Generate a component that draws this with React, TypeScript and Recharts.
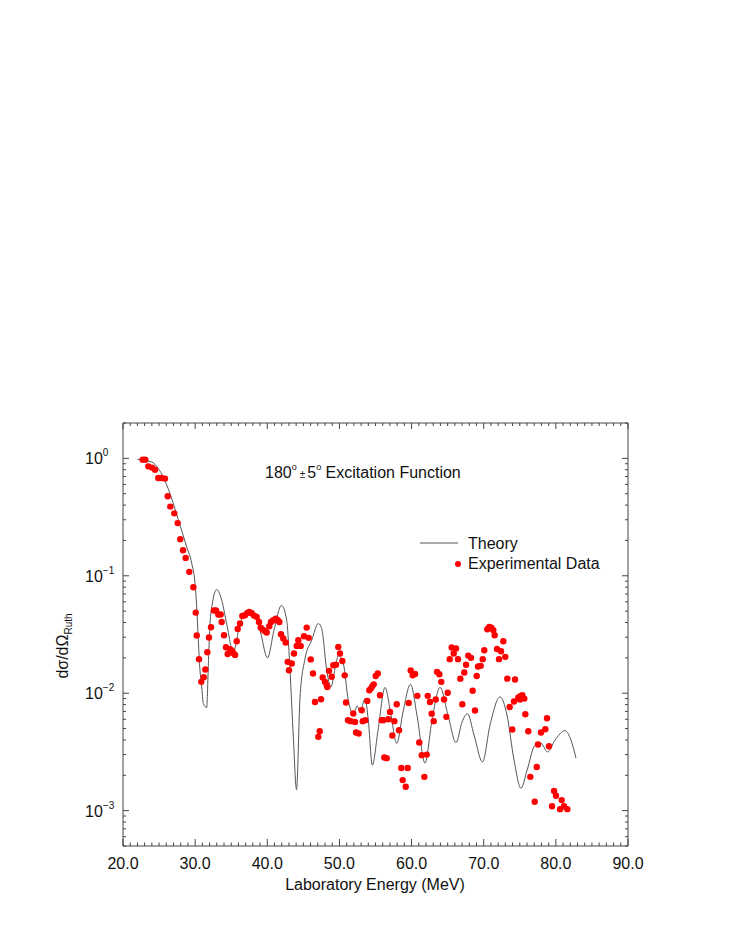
import React from 'react';
import { ComposedChart, Line, Scatter, XAxis, YAxis } from 'recharts';

// theory curve: [lab energy MeV, dσ/dΩ / Ruth]
const THEORY: [number, number][] = [
  [22.0, 0.98], [24.0, 0.93], [24.89, 0.82], [25.59, 0.69], [26.52, 0.5], [27.67, 0.3],
  [28.83, 0.176], [29.52, 0.128], [29.98, 0.0863], [30.22, 0.0542], [30.44, 0.0283],
  [30.67, 0.0157], [30.91, 0.0113], [31.13, 0.00817], [31.6, 0.00755], [31.85, 0.019],
  [32.06, 0.039], [32.34, 0.056], [32.99, 0.0763], [33.68, 0.062], [34.37, 0.039],
  [35.29, 0.0225], [36.22, 0.039], [37.05, 0.049], [38.02, 0.0492], [38.99, 0.0344],
  [40.03, 0.02], [40.93, 0.0344], [41.97, 0.056], [42.69, 0.0418], [43.15, 0.0157],
  [43.61, 0.00425], [44.05, 0.00151], [44.54, 0.0093], [45.23, 0.0197], [46.16, 0.0283],
  [47.07, 0.0392], [47.54, 0.0355], [48.24, 0.0157], [48.8, 0.0113], [49.62, 0.0191],
  [49.87, 0.021], [50.54, 0.0179], [51.23, 0.0087], [51.92, 0.0067], [52.48, 0.0078],
  [52.85, 0.0069], [53.55, 0.009], [54.0, 0.0059], [54.56, 0.00244], [55.35, 0.00484],
  [56.32, 0.0112], [57.15, 0.0065], [57.94, 0.00373], [58.81, 0.0069], [59.85, 0.0119],
  [60.75, 0.0065], [61.86, 0.00254], [62.83, 0.0059], [63.94, 0.0112], [65.05, 0.0065],
  [66.16, 0.0038], [66.99, 0.00566], [67.75, 0.0067], [68.66, 0.0044], [69.83, 0.0026],
  [70.87, 0.00534], [72.26, 0.0093], [73.23, 0.0065], [74.2, 0.0027], [75.17, 0.00155],
  [76.0, 0.0022], [77.11, 0.0036], [77.94, 0.00375], [78.84, 0.00316], [79.88, 0.00398],
  [81.27, 0.0048], [82.1, 0.00398], [82.79, 0.0028],
];

// experimental points: [lab energy MeV, dσ/dΩ / Ruth]
const EXPERIMENT: [number, number][] = [
  [22.73, 0.975], [23.09, 0.975], [23.51, 0.855], [24.02, 0.834], [24.44, 0.8], [24.89, 0.68],
  [25.36, 0.68], [25.82, 0.672], [26.2, 0.475], [26.56, 0.388], [27.11, 0.34], [27.58, 0.281],
  [27.94, 0.205], [28.32, 0.165], [28.69, 0.142], [29.19, 0.108], [29.75, 0.0798], [30.08, 0.0486],
  [30.22, 0.031], [30.54, 0.0195], [30.85, 0.0125], [31.19, 0.0137], [31.41, 0.0159], [31.69, 0.0223],
  [31.92, 0.0298], [32.2, 0.0365], [32.61, 0.0506], [32.89, 0.0506], [33.21, 0.0468], [33.54, 0.0468],
  [33.68, 0.0404], [34.0, 0.0312], [34.28, 0.0246], [34.51, 0.0216], [34.83, 0.0237], [35.07, 0.0231],
  [35.29, 0.022], [35.53, 0.0212], [35.76, 0.0277], [35.9, 0.0353], [36.22, 0.0392], [36.54, 0.0455],
  [36.91, 0.0461], [37.23, 0.0482], [37.51, 0.0492], [37.84, 0.048], [38.16, 0.0458], [38.53, 0.0446],
  [38.85, 0.0404], [39.09, 0.0362], [39.37, 0.0348], [39.68, 0.0337], [39.92, 0.0329], [40.28, 0.0372],
  [40.52, 0.0404], [40.83, 0.0418], [41.17, 0.0432], [41.44, 0.0418], [41.67, 0.0404], [41.9, 0.0318],
  [42.22, 0.0292], [42.55, 0.027], [42.83, 0.0185], [43.01, 0.0157], [43.39, 0.0179], [43.7, 0.0218],
  [44.08, 0.0253], [44.3, 0.0283], [44.63, 0.0253], [45.09, 0.0306], [45.46, 0.0362], [45.74, 0.0296],
  [46.02, 0.0194], [46.34, 0.0147], [46.61, 0.00843], [47.07, 0.00425], [47.27, 0.00475], [47.45, 0.00889],
  [47.68, 0.0136], [48.0, 0.0125], [48.24, 0.0117], [48.32, 0.0113], [48.56, 0.0155], [48.93, 0.0138],
  [49.15, 0.0173], [49.53, 0.0175], [49.84, 0.0248], [50.08, 0.0218], [50.4, 0.0188], [50.73, 0.0142],
  [50.91, 0.00834], [51.19, 0.0059], [51.56, 0.00578], [51.92, 0.00672], [52.16, 0.0057], [52.3, 0.00463],
  [52.67, 0.00454], [53.09, 0.00717], [53.23, 0.00578], [53.59, 0.0059], [53.86, 0.0086], [54.14, 0.0106],
  [54.38, 0.011], [54.56, 0.0115], [54.75, 0.0119], [55.03, 0.014], [55.31, 0.0147], [55.62, 0.0096],
  [55.86, 0.0059], [56.08, 0.0059], [56.22, 0.00284], [56.55, 0.0028], [56.78, 0.006], [57.01, 0.00693],
  [57.33, 0.00436], [57.61, 0.00578], [57.94, 0.00806], [58.26, 0.00484], [58.58, 0.00231], [58.77, 0.00182],
  [59.19, 0.0016], [59.46, 0.00231], [59.6, 0.00827], [59.88, 0.0156], [60.16, 0.0142], [60.48, 0.0146],
  [60.8, 0.0095], [61.07, 0.0038], [61.41, 0.00297], [61.77, 0.00194], [62.1, 0.003], [62.24, 0.0095],
  [62.56, 0.00843], [62.79, 0.0067], [63.07, 0.00578], [63.35, 0.00884], [63.53, 0.0152], [63.85, 0.0145],
  [64.12, 0.0125], [64.5, 0.00884], [64.82, 0.00629], [65.01, 0.0101], [65.29, 0.0195], [65.56, 0.0245],
  [65.84, 0.0218], [66.16, 0.024], [66.44, 0.0195], [66.76, 0.0133], [67.03, 0.00806], [67.31, 0.015],
  [67.55, 0.0175], [67.86, 0.0209], [68.24, 0.02], [68.47, 0.0105], [68.79, 0.00713], [69.03, 0.014],
  [69.21, 0.0169], [69.58, 0.0171], [69.86, 0.0195], [70.08, 0.0232], [70.5, 0.0351], [70.78, 0.0367],
  [71.05, 0.0362], [71.33, 0.0344], [71.52, 0.0312], [71.84, 0.0238], [72.12, 0.0195], [72.4, 0.0228],
  [72.72, 0.0277], [72.99, 0.0204], [73.27, 0.0133], [73.6, 0.00764], [73.96, 0.00491], [74.2, 0.0085],
  [74.34, 0.0131], [74.8, 0.00919], [75.03, 0.00884], [75.13, 0.0095], [75.35, 0.0096], [75.63, 0.009],
  [75.77, 0.00663], [76.18, 0.00475], [76.46, 0.00194], [77.07, 0.00119], [77.35, 0.00235], [77.53, 0.00366],
  [77.94, 0.00463], [78.54, 0.00494], [78.77, 0.00612], [79.05, 0.00354], [79.47, 0.00109], [79.75, 0.00147],
  [80.02, 0.00134], [80.58, 0.00103], [80.81, 0.00123], [81.13, 0.00109], [81.59, 0.00103],
];

const X_MAJOR = [20, 30, 40, 50, 60, 70, 80, 90];
const Y_DECADES = [-4, -3, -2, -1, 0];
const Y_DOMAIN: [number, number] = [0.0005, 2];

const theoryData = THEORY.map(([x, y]) => ({ x, y }));
const expData = EXPERIMENT.map(([x, y]) => ({ x, y }));

const xTicks: number[] = [];
for (let v = X_MAJOR[0]; v <= X_MAJOR[X_MAJOR.length - 1]; v++) xTicks.push(v);

const yTicks: number[] = [];
Y_DECADES.forEach((d) => {
  for (let k = 1; k <= 9; k++) {
    const v = k * Math.pow(10, d);
    if (v >= Y_DOMAIN[0] * 0.999 && v <= Y_DOMAIN[1] * 1.001) yTicks.push(v);
  }
});

const isDecade = (v: number) => Math.abs(Math.log10(v) - Math.round(Math.log10(v))) < 1e-6;
const FONT = '"Liberation Sans", Arial, Helvetica, sans-serif';
const INK = '#444';

const BottomTick = (props: any) => {
  const { x, y, payload } = props;
  const major = X_MAJOR.includes(payload.value);
  return (
    <g>
      <line x1={x} x2={x} y1={y} y2={y - (major ? 7 : 3.5)} stroke={INK} strokeWidth={1} />
      {major && (
        <text x={x} y={y + 23} textAnchor="middle" fontSize={16} fontFamily={FONT} fill="#111">
          {payload.value.toFixed(1)}
        </text>
      )}
    </g>
  );
};

const TopTick = (props: any) => {
  const { x, y, payload } = props;
  const major = X_MAJOR.includes(payload.value);
  return <line x1={x} x2={x} y1={y} y2={y + (major ? 6 : 3)} stroke={INK} strokeWidth={1} />;
};

const LeftTick = (props: any) => {
  const { x, y, payload } = props;
  const major = isDecade(payload.value);
  const exp = Math.round(Math.log10(payload.value));
  return (
    <g>
      <line x1={x} x2={x + (major ? 6 : 3)} y1={y} y2={y} stroke={INK} strokeWidth={1} />
      {major && (
        <text x={x - 38} y={y + 6} fontSize={16} fontFamily={FONT} fill="#111">
          10
          <tspan dy={-8} fontSize={10}>
            {exp < 0 ? `\u2212${-exp}` : `${exp}`}
          </tspan>
        </text>
      )}
    </g>
  );
};

const RightTick = (props: any) => {
  const { x, y, payload } = props;
  const major = isDecade(payload.value);
  return <line x1={x} x2={x - (major ? 6 : 3)} y1={y} y2={y} stroke={INK} strokeWidth={1} />;
};

const Dot = (props: any) => <circle cx={props.cx} cy={props.cy} r={3.2} fill="#ff0000" />;

export default function App() {
  return (
    <div style={{ position: 'relative', width: 720, height: 936 }}>
      <ComposedChart
        width={720}
        height={936}
        margin={{ top: 414, left: 114, right: 99, bottom: 97 }}
      >
        <XAxis
          dataKey="x"
          type="number"
          domain={[20, 90]}
          ticks={xTicks}
          interval={0}
          allowDataOverflow
          height={1}
          tickSize={0}
          tickMargin={0}
          tickLine={false}
          tick={<BottomTick />}
          axisLine={{ stroke: INK }}
        />
        <XAxis
          xAxisId="top"
          orientation="top"
          dataKey="x"
          type="number"
          domain={[20, 90]}
          ticks={xTicks}
          interval={0}
          allowDataOverflow
          height={1}
          tickSize={0}
          tickMargin={0}
          tickLine={false}
          tick={<TopTick />}
          axisLine={{ stroke: INK }}
        />
        <YAxis
          type="number"
          scale="log"
          domain={Y_DOMAIN}
          ticks={yTicks}
          interval={0}
          allowDataOverflow
          width={1}
          tickSize={0}
          tickMargin={0}
          tickLine={false}
          tick={<LeftTick />}
          axisLine={{ stroke: INK }}
        />
        <YAxis
          yAxisId="right"
          orientation="right"
          type="number"
          scale="log"
          domain={Y_DOMAIN}
          ticks={yTicks}
          interval={0}
          allowDataOverflow
          width={1}
          tickSize={0}
          tickMargin={0}
          tickLine={false}
          tick={<RightTick />}
          axisLine={{ stroke: INK }}
        />
        <Line
          data={theoryData}
          dataKey="y"
          type="monotone"
          dot={false}
          stroke="#555"
          strokeWidth={1}
          isAnimationActive={false}
        />
        <Scatter data={expData} dataKey="y" shape={<Dot />} isAnimationActive={false} />
      </ComposedChart>

      <svg
        width={720}
        height={936}
        viewBox="8 8 720 936"
        style={{ position: 'absolute', left: 0, top: 0, pointerEvents: 'none' }}
        fontFamily={FONT}
      >
        <text x={265} y={478} fontSize={16} fill="#111">
          180
          <tspan dy={-8} fontSize={9}>o</tspan>
          <tspan dy={8} dx={3} fontSize={10}>±</tspan>
          <tspan dx={2}>5</tspan>
          <tspan dy={-8} fontSize={9}>o</tspan>
          <tspan dy={8}> Excitation Function</tspan>
        </text>

        <line x1={420} x2={458} y1={543} y2={543} stroke="#555" strokeWidth={1} />
        <text x={468} y={549} fontSize={16} fill="#111">Theory</text>
        <circle cx={458} cy={564} r={3} fill="#ff0000" />
        <text x={468} y={569} fontSize={16} fill="#111">Experimental Data</text>

        <text x={375} y={890} textAnchor="middle" fontSize={16} fill="#111">
          Laboratory Energy (MeV)
        </text>

        <text transform="translate(68,646) rotate(-90)" textAnchor="middle" fontSize={16} fill="#111">
          dσ/dΩ
          <tspan dy={4} fontSize={10}>Ruth</tspan>
        </text>
      </svg>
    </div>
  );
}
